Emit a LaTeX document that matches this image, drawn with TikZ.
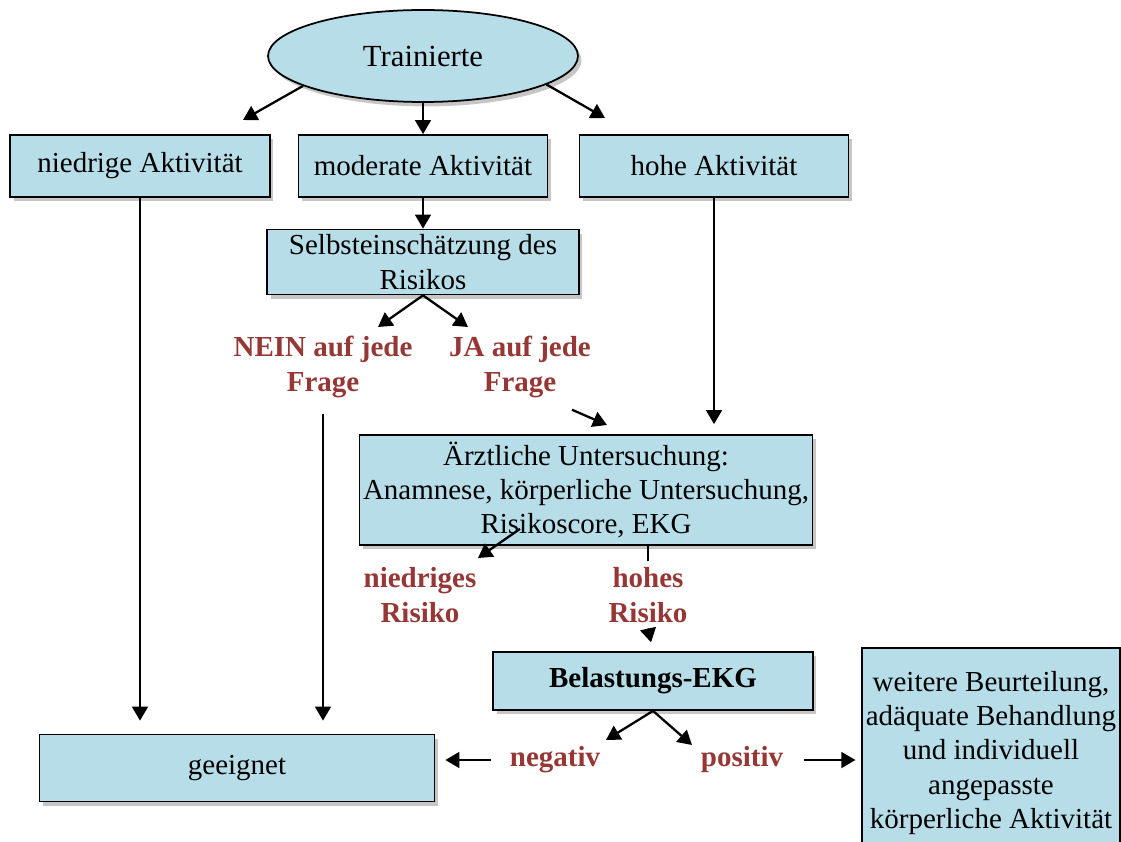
\documentclass[tikz,border=0pt]{standalone}
\usepackage{fontspec}
\setmainfont{Liberation Serif}
\usepackage{tikz}
\usetikzlibrary{shapes.geometric,shadows,calc,arrows.meta}
\definecolor{boxblue}{RGB}{183,222,232}
\definecolor{labelred}{RGB}{149,55,53}

\begin{document}
\begin{tikzpicture}[x=0.02cm,y=-0.02cm,every text node part/.style={align=center},font=\fontsize{16.5}{19.5}\selectfont,
box/.style={draw,line width=1pt,fill=boxblue,inner sep=2pt,drop shadow={shadow xshift=2pt,shadow yshift=-2.5pt,opacity=0.45}},
answer/.style={text=labelred,font=\fontsize{16.5}{19.5}\selectfont\bfseries},
arr/.style={line width=1.3pt,-{Triangle[length=8pt,width=9pt]}}]
\useasboundingbox (0,0) rectangle (1121,841);
\node[box,ellipse,font=\fontsize{17.5}{20}\selectfont,minimum width=6.2cm,minimum height=1.84cm,inner sep=0pt] (tr) at (423,56) {Trainierte};
\node[box,minimum width=5.2cm,minimum height=1.24cm] (niedrig) at (140,166) {niedrige Aktivität};
\node[box,minimum width=4.98cm,minimum height=1.24cm] (moderat) at (423,166) {moderate Aktivität};
\node[box,minimum width=5.38cm,minimum height=1.24cm] (hoch) at (714,166) {hohe Aktivität};
\node[box,minimum width=6.24cm,minimum height=1.3cm] (selbst) at (423,262) {Selbsteinschätzung des\\Risikos};
\node[answer] (nein) at (323,367) {NEIN auf jede\\Frage};
\node[answer] (ja) at (520,367) {JA auf jede\\Frage};
\node[box,minimum width=8.96cm,minimum height=2.2cm] (arzt) at (586,490) {Ärztliche Untersuchung:\\Anamnese, körperliche Untersuchung,\\Risikoscore, EKG};
\node[answer] (nrisiko) at (420,595) {niedriges\\Risiko};
\node[answer] (hrisiko) at (648,595) {hohes\\Risiko};
\node[box,font=\fontsize{16.5}{19.5}\selectfont\bfseries,minimum width=6.4cm,minimum height=1.16cm] (belastung) at (653,681) {Belastungs-EKG};
\node[box,minimum width=7.9cm,minimum height=1.34cm] (geeignet) at (237,768) {geeignet};
\node[answer] (neg) at (555,760) {negativ};
\node[answer] (pos) at (742,760) {positiv};
\node[box,minimum width=5.02cm,minimum height=4.2cm] (weiter) at (991,753) {weitere Beurteilung,\\adäquate Behandlung\\und individuell\\angepasste\\körperliche Aktivität};
\coordinate (a1) at (243,120);
\coordinate (a2) at (605,118);
\coordinate (a3) at (378,327);
\coordinate (a4) at (468,327);
\coordinate (a5) at (607,425);
\coordinate (a6) at (478,558);
\coordinate (a7) at (606,740);
\coordinate (a8) at (692,745);
\draw[arr] (tr.194) -- (a1);
\draw[arr] (tr) -- (moderat);
\draw[arr] (tr.347) -- (a2);
\draw[arr,shorten >=0.26cm] (niedrig.south) -- (niedrig.south |- geeignet.north);
\draw[arr] (moderat) -- (selbst);
\draw[arr,shorten >=0.2cm] (hoch.south) -- (hoch.south |- arzt.north);
\draw[arr] (selbst.south) -- (a3);
\draw[arr] (selbst.south) -- (a4);
\draw[arr,shorten <=0.2cm,shorten >=0.26cm] (nein.south) -- (nein.south |- geeignet.north);
\draw[arr] ($(ja.south)+(52,6)$) -- (a5);
\draw[arr] ($(arzt.south)+(-66,-17)$) -- (a6);
\draw[line width=1.3pt] (arzt.south -| hrisiko.north) -- (hrisiko.north);
\draw[arr,shorten >=0.18cm] (hrisiko.south) -- (belastung.north);
\draw[arr] (belastung.south) -- (a7);
\draw[arr] (belastung.south) -- (a8);
\draw[arr,shorten <=0.25cm,shorten >=0.2cm] (neg.west) -- (neg.west -| geeignet.east);
\draw[arr,shorten <=0.3cm,shorten >=0.12cm] (pos.east) -- (pos.east -| weiter.west);
\end{tikzpicture}
\end{document}
